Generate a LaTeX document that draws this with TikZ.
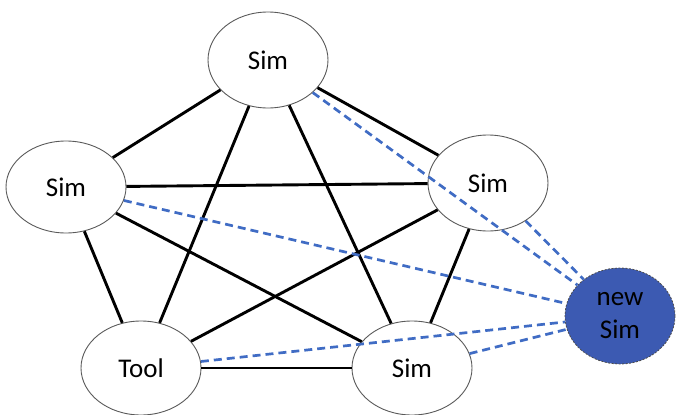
\documentclass[tikz,border=0pt]{standalone}
\usepackage{fontspec}
\setmainfont{Carlito}
\usetikzlibrary{shapes.geometric}
\definecolor{linkblue}{RGB}{64,108,196}
\definecolor{newfill}{RGB}{60,90,178}
\definecolor{rimgray}{RGB}{90,90,90}
\begin{document}
\begin{tikzpicture}[x=1pt,y=-1pt,
  simnode/.style={ellipse,draw=rimgray,line width=0.9pt,fill=white,
    minimum width=120pt,minimum height=96pt,inner sep=0pt,
    font=\fontsize{27}{32}\selectfont},
  newnode/.style={ellipse,draw=black!70,dash pattern=on 2pt off 1.5pt,line width=0.8pt,
    fill=newfill,minimum width=110pt,minimum height=96pt,inner sep=0pt,align=center,
    font=\fontsize{27}{33}\selectfont},
  link/.style={line width=2.9pt,black},
  newlink/.style={line width=2.7pt,linkblue,dash pattern=on 8pt off 5pt}]
\useasboundingbox (0,0) rectangle (678,415);
% the five existing members
\node[simnode] (top) at (268,60) {Sim};
\node[simnode,minimum height=92pt] (left) at (66,187) {Sim};
\node[simnode] (right) at (488,183) {Sim};
\node[simnode,minimum height=94pt] (tool) at (141,368) {Tool};
\node[simnode,minimum height=94pt] (bot) at (412,368) {Sim};
% the joining member
\node[newnode] (new) at (620,316) {new\\Sim};
% existing links: every pair is connected
\draw[link] (top) -- (left);
\draw[link] (top) -- (right);
\draw[link] (top) -- (tool);
\draw[link] (top) -- (bot);
\draw[link] (left) -- (right);
\draw[link] (left) -- (tool);
\draw[link] (left) -- (bot);
\draw[link] (right) -- (tool);
\draw[link] (right) -- (bot);
\draw[link] (tool) -- (bot);
% links to the joining member
\draw[newlink] (top) -- (new);
\draw[newlink] (left) -- (new);
\draw[newlink] (right) -- (new);
\draw[newlink] (tool) -- (new);
\draw[newlink] (bot) -- (new);
\end{tikzpicture}
\end{document}
